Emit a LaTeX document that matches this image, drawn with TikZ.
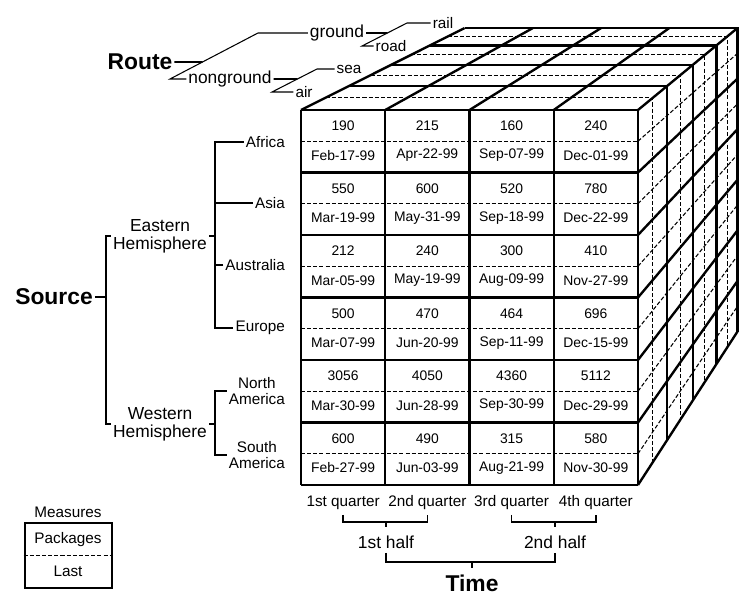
\documentclass[tikz,border=0pt]{standalone}
\usepackage{fontspec}
\setmainfont{Liberation Sans}
\usetikzlibrary{calc,positioning}
\tikzset{
  heavy/.style={line width=1.35pt},
  dashline/.style={line width=0.6pt, dash pattern=on 2.3pt off 1.2pt},
  tree/.style={line width=0.95pt},
  slant/.style={line width=0.6pt},
  cellval/.style={font=\fontsize{7.9}{9}\selectfont, inner sep=1pt},
  leaf/.style={font=\fontsize{8.7}{9.1}\selectfont, inner sep=1pt, align=center},
  mid/.style={font=\fontsize{9.9}{10.2}\selectfont, inner sep=1pt, align=center},
  head/.style={font=\fontsize{13}{15}\selectfont\bfseries, inner sep=1pt},
  legend/.style={draw, line width=1.6pt, minimum width=17.4mm, minimum height=13mm, inner sep=0pt},
}

\begin{document}
\begin{tikzpicture}[x=0.2mm, y=0.2mm]
\path[use as bounding box] (0,0) rectangle (750,597);
\def\cw{84.25}
\def\rh{62.5}
\coordinate (V) at (1160,917);
\coordinate (FTL) at (301,487);
\coordinate (FTR) at (638,487);
\coordinate (FBR) at (638,112);

% front face: quarters x sources
\foreach \i in {0,...,4}
  \draw[heavy] ({301+\i*\cw},112) -- ({301+\i*\cw},487);
\foreach \j in {0,...,6}
  \draw[heavy] (301,{487-\j*\rh}) -- (638,{487-\j*\rh});
\foreach \j in {0,...,5}
  \draw[dashline] (301,{487-(\j+0.5)*\rh}) -- (638,{487-(\j+0.5)*\rh});

% one slice per route, shrinking towards V
\foreach \t in {1,...,4} {
  \pgfmathsetmacro\s{17/(17+\t)}
  \draw[heavy] ($(V)!\s!(FTL)$) -- ($(V)!\s!(FTR)$) -- ($(V)!\s!(FBR)$);
}
\foreach \t in {0.5,1.5,2.5,3.5} {
  \pgfmathsetmacro\s{17/(17+\t)}
  \draw[dashline] ($(V)!\s!(FTL)$) -- ($(V)!\s!(FTR)$) -- ($(V)!\s!(FBR)$);
}
\foreach \i in {0,...,4}
  \draw[heavy] ({301+\i*\cw},487) -- ($(V)!0.8095!({301+\i*\cw},487)$);
\foreach \j in {1,...,6}
  \draw[heavy] (638,{487-\j*\rh}) -- ($(V)!0.8095!(638,{487-\j*\rh})$);
\foreach \j in {0,...,5}
  \draw[dashline] (638,{487-(\j+0.5)*\rh}) -- ($(V)!0.8095!(638,{487-(\j+0.5)*\rh})$);

% measures in the cells
\foreach \v [count=\k from 0] in {190,215,160,240,550,600,520,780,212,240,300,410,
    500,470,464,696,3056,4050,4360,5112,600,490,315,580}
  \node[cellval] (v\k) at ({343.1+mod(\k,4)*\cw},{471-int(\k/4)*\rh}) {\v};
\foreach \d [count=\k from 0] in {Feb-17-99,Apr-22-99,Sep-07-99,Dec-01-99,
    Mar-19-99,May-31-99,Sep-18-99,Dec-22-99,Mar-05-99,May-19-99,Aug-09-99,Nov-27-99,
    Mar-07-99,Jun-20-99,Sep-11-99,Dec-15-99,Mar-30-99,Jun-28-99,Sep-30-99,Dec-29-99,
    Feb-27-99,Jun-03-99,Aug-21-99,Nov-30-99}
  \node[cellval] (d\k) at ({343.1+mod(\k,4)*\cw},{441.5-int(\k/4)*\rh}) {\d};

% route dimension
\coordinate (rlo) at (170,518);
\coordinate (rhi) at (258,564);
\coordinate (glo) at (362,551);
\coordinate (ghi) at (407,574);
\coordinate (nlo) at (272,505);
\coordinate (nhi) at (317,528);
\node[head] (route) at (140,535) {Route};
\node[mid] (ground) at (337,564) {ground};
\node[mid] (nonground) at (230,518) {nonground};
\node[leaf] (rail) at (443,574) {rail};
\node[leaf] (road) at (391,551) {road};
\node[leaf] (sea) at (349,528) {sea};
\node[leaf] (air) at (304,505) {air};
\draw[tree] (route.east) -- ($(rlo)!0.37!(rhi)$);
\draw[slant] (nonground.west) -- (rlo) -- (rhi) -- (ground.west);
\draw[tree] (ground.east) -- ($(glo)!0.565!(ghi)$);
\draw[slant] (road.west) -- (glo) -- (ghi) -- (rail.west);
\draw[tree] (nonground.east) -- ($(nlo)!0.565!(nhi)$);
\draw[slant] (air.west) -- (nlo) -- (nhi) -- (sea.west);

% source dimension
\node[head] (source) at (54,300) {Source};
\node[mid] (eastern) at (160,361) {Eastern\\Hemisphere};
\node[mid] (western) at (160,173) {Western\\Hemisphere};
\node[leaf, anchor=east] (africa) at (287,455) {Africa};
\node[leaf, anchor=east] (asia) at (287,394) {Asia};
\node[leaf, anchor=east] (australia) at (287,332) {Australia};
\node[leaf, anchor=east] (europe) at (287,269) {Europe};
\node[leaf, anchor=east] (namerica) at (287,206) {North\\America};
\node[leaf, anchor=east] (samerica) at (287,142) {South\\America};
\draw[tree] (source.east) -- (source -| 106,0);
\draw[tree] (eastern.west) -- (eastern -| 106,0) -- (western -| 106,0) -- (western.west);
\draw[tree] (eastern.east) -- (eastern -| 215,0);
\draw[tree] (africa.west) -- (africa -| 215,0) -- (europe -| 215,0) -- (europe.west);
\draw[tree] (asia.west) -- (asia -| 215,0);
\draw[tree] (australia.west) -- (australia -| 215,0);
\draw[tree] (western.east) -- (western -| 215,0);
\draw[tree] (namerica.west) -- (namerica -| 215,0) -- (samerica -| 215,0) -- (samerica.west);

% time dimension
\foreach \q [count=\k] in {1st,2nd,3rd,4th}
  \node[leaf] (q\k) at ({343.1+(\k-1)*\cw},94) {\q\ quarter};
\node[mid] (half1) at (386,55) {1st half};
\node[mid] (half2) at (555,55) {2nd half};
\node[head] (time) at (472,14) {Time};
\draw[tree] (q1 |- 0,82) -- (q1 |- 0,75) -| (q2 |- 0,82);
\draw[tree] (half1 |- 0,75) -- (half1 |- 0,70);
\draw[tree] (q3 |- 0,82) -- (q3 |- 0,75) -| (q4 |- 0,82);
\draw[tree] (half2 |- 0,75) -- (half2 |- 0,70);
\draw[tree] (half1 |- 0,44) -- (half1 |- 0,35) -| (half2 |- 0,44);
\draw[tree] (time |- 0,35) -- (time |- 0,29);

% legend
\node[leaf] (measures) at (68,85) {Measures};
\node[legend] (mbox) at (68.5,41.5) {};
\node[leaf] (packages) at (68,57) {Packages};
\node[leaf] (last) at (68,26) {Last};
\draw[dashline, line width=0.8pt] (mbox.west) -- (mbox.east);
\end{tikzpicture}
\end{document}
